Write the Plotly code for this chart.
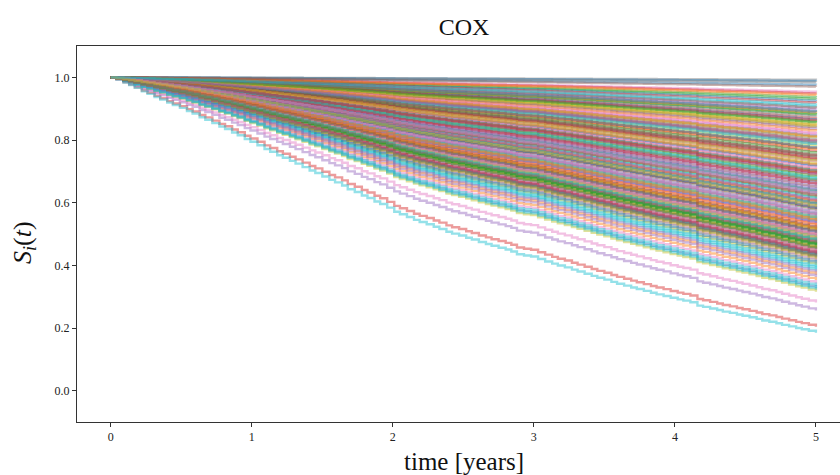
import numpy as np
import plotly.graph_objects as go

# Event times (years) and the survival of the highest-risk subject at each event
event_times = [
    0.00, 0.04, 0.09, 0.13, 0.17, 0.22, 0.26, 0.31, 0.35, 0.40, 0.44, 0.49,
    0.54, 0.58, 0.63, 0.67, 0.72, 0.77, 0.81, 0.86, 0.90, 0.95, 0.99, 1.04,
    1.09, 1.13, 1.18, 1.22, 1.27, 1.31, 1.36, 1.41, 1.45, 1.50, 1.55, 1.59,
    1.64, 1.68, 1.73, 1.78, 1.82, 1.87, 1.91, 1.96, 2.01, 2.05, 2.10, 2.15,
    2.19, 2.24, 2.29, 2.33, 2.38, 2.42, 2.47, 2.52, 2.56, 2.61, 2.66, 2.70,
    2.75, 2.80, 2.84, 2.88, 2.93, 2.98, 3.03, 3.08, 3.13, 3.17, 3.22, 3.27,
    3.31, 3.36, 3.41, 3.45, 3.50, 3.55, 3.59, 3.64, 3.69, 3.73, 3.78, 3.83,
    3.87, 3.92, 3.97, 4.02, 4.06, 4.11, 4.16, 4.20, 4.25, 4.30, 4.34, 4.39,
    4.44, 4.48, 4.53, 4.58, 4.62, 4.67, 4.72, 4.76, 4.81, 4.86, 4.90, 4.95,
    5.00,
]
reference_surv = [
    1.000, 0.993, 0.983, 0.975, 0.966, 0.955, 0.947, 0.937, 0.929, 0.919, 0.911, 0.902,
    0.892, 0.884, 0.872, 0.864, 0.853, 0.842, 0.834, 0.823, 0.814, 0.802, 0.793, 0.782,
    0.770, 0.761, 0.750, 0.742, 0.732, 0.723, 0.712, 0.701, 0.693, 0.682, 0.671, 0.663,
    0.653, 0.641, 0.632, 0.621, 0.613, 0.602, 0.594, 0.582, 0.569, 0.561, 0.552, 0.543,
    0.536, 0.529, 0.521, 0.514, 0.505, 0.499, 0.493, 0.486, 0.480, 0.472, 0.466, 0.460,
    0.454, 0.448, 0.442, 0.433, 0.429, 0.426, 0.418, 0.410, 0.403, 0.397, 0.391, 0.384,
    0.378, 0.371, 0.364, 0.358, 0.352, 0.345, 0.339, 0.333, 0.327, 0.322, 0.316, 0.310,
    0.305, 0.300, 0.294, 0.289, 0.285, 0.280, 0.269, 0.265, 0.260, 0.255, 0.250, 0.246,
    0.241, 0.237, 0.232, 0.227, 0.222, 0.218, 0.213, 0.208, 0.203, 0.198, 0.194, 0.189,
    0.183,
]

# Predicted 5-year survival per subject (plotting order)
surv_5y = [
    0.327, 0.353, 0.879, 0.204, 0.256, 0.647, 0.281, 0.741, 0.316, 0.185,
    0.976, 0.482, 0.936, 0.529, 0.712, 0.468, 0.342, 0.664, 0.551, 0.906,
    0.811, 0.370, 0.791, 0.451, 0.583, 0.692, 0.953, 0.436, 0.401, 0.489,
    0.637, 0.846, 0.930, 0.762, 0.534, 0.560, 0.442, 0.891, 0.723, 0.389,
    0.461, 0.702, 0.615, 0.868, 0.833, 0.508, 0.417, 0.992, 0.779, 0.675,
    0.988, 0.496, 0.574, 0.948, 0.653, 0.734, 0.821, 0.543, 0.445, 0.383,
    0.597, 0.768, 0.516, 0.686, 0.897, 0.430, 0.499, 0.626, 0.806, 0.565,
    0.924, 0.455, 0.857, 0.604, 0.475, 0.750, 0.588, 0.412, 0.670, 0.538,
    0.716, 0.547, 0.427, 0.796, 0.659, 0.902, 0.485, 0.874, 0.512, 0.631,
    0.433, 0.828, 0.681, 0.578, 0.363, 0.745, 0.521, 0.984, 0.458, 0.611,
    0.864, 0.601, 0.478, 0.918, 0.556, 0.424, 0.706, 0.787, 0.592, 0.334,
    0.503, 0.943, 0.757, 0.471, 0.642, 0.839, 0.569, 0.448, 0.697, 0.395,
    0.773, 0.525, 0.882, 0.620, 0.439, 0.970, 0.729, 0.492, 0.850, 0.549,
    0.406, 0.719, 0.465, 0.861, 0.689, 0.518, 0.817, 0.634, 0.421, 0.784,
    0.580, 0.886, 0.463, 0.738, 0.377, 0.667, 0.446, 0.801, 0.487, 0.322,
    0.593, 0.809, 0.453, 0.657, 0.536, 0.771, 0.494, 0.622, 0.843, 0.479,
    0.699, 0.514, 0.855, 0.437, 0.606, 0.748, 0.562, 0.428, 0.731, 0.672,
    0.889, 0.541, 0.466, 0.694, 0.793, 0.505, 0.628, 0.472, 0.586, 0.912,
]

palette = ["#1f77b4", "#ff7f0e", "#2ca02c", "#d62728", "#9467bd",
           "#8c564b", "#e377c2", "#7f7f7f", "#bcbd22", "#17becf"]
x_ticks = [0, 1, 2, 3, 4, 5]
y_ticks = [0.0, 0.2, 0.4, 0.6, 0.8, 1.0]

LINE_ALPHA = 0.46
SERIF = "Liberation Serif, DejaVu Serif, serif"


def rgba(hex_color, alpha):
    h = hex_color.lstrip("#")
    r, g, b = int(h[0:2], 16), int(h[2:4], 16), int(h[4:6], 16)
    return f"rgba({r},{g},{b},{alpha})"


base = np.array(reference_surv)
log_ref = np.log(base[-1])

fig = go.Figure()
for i, s5 in enumerate(surv_5y):
    # proportional hazards: S_i(t) = S_ref(t) ** (H_i / H_ref)
    ratio = np.log(s5) / log_ref
    fig.add_trace(go.Scatter(
        x=event_times, y=base ** ratio, mode="lines",
        line=dict(color=rgba(palette[i % len(palette)], LINE_ALPHA), width=2.4, shape="hv"),
        hoverinfo="skip", showlegend=False,
    ))

fig.update_layout(
    width=840, height=475,
    margin=dict(l=77, r=0, t=46, b=53),
    paper_bgcolor="white", plot_bgcolor="white",
    font=dict(family=SERIF, color="#222", size=12),
    title=dict(text="COX", x=464 / 840, xanchor="center", y=1 - 27 / 475,
               yanchor="middle", font=dict(family=SERIF, size=24, color="#111")),
)
fig.update_xaxes(
    range=[-0.24, 5.171], tickvals=x_ticks, ticktext=[str(v) for v in x_ticks],
    showgrid=False, zeroline=False, showline=True, linecolor="#333", linewidth=1,
    mirror=True, ticks="outside", ticklen=4, tickwidth=0.8, tickcolor="#333",
    tickfont=dict(size=12),
)
fig.update_yaxes(
    range=[-0.1, 1.1], tickvals=y_ticks, ticktext=[f"{v:.1f}" for v in y_ticks],
    showgrid=False, zeroline=False, showline=True, linecolor="#333", linewidth=1,
    mirror=False, ticks="outside", ticklen=4, tickwidth=0.8, tickcolor="#333",
    tickfont=dict(size=12),
)

fig.add_annotation(
    text="time [years]", xref="paper", yref="paper",
    x=(464 - 77) / 763, y=-(461 - 422) / 376, xanchor="center", yanchor="middle",
    showarrow=False, font=dict(family=SERIF, size=25, color="#111"),
)
fig.add_annotation(
    text="<i>S</i><sub><i>i</i></sub>(<i>t</i>)", xref="paper", yref="paper",
    x=-(77 - 24) / 763, y=(422 - 243) / 376, xanchor="center", yanchor="middle",
    textangle=-90, showarrow=False, font=dict(family=SERIF, size=26, color="#111"),
)

fig.write_html("out.html")
